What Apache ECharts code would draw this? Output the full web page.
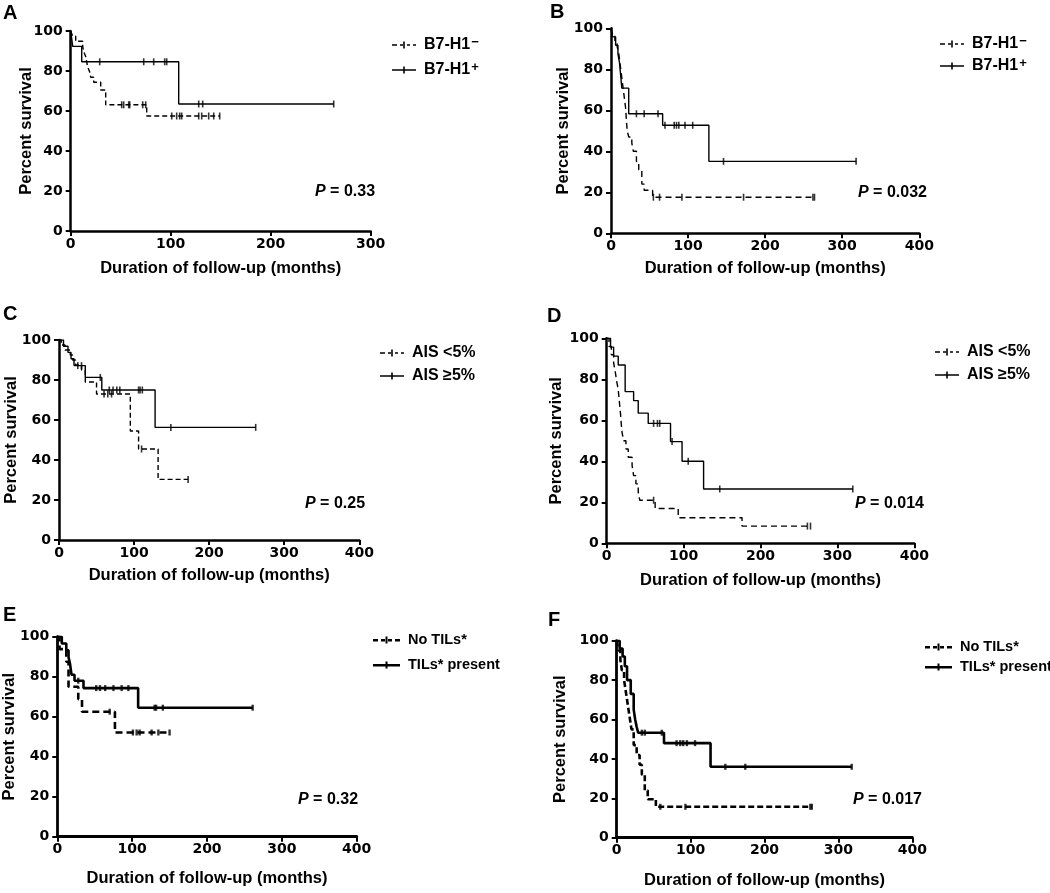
<!DOCTYPE html>
<html><head><meta charset="utf-8">
<script src="https://cdn.jsdelivr.net/npm/echarts@6/dist/echarts.min.js"></script>
<style>html,body{margin:0;padding:0;background:#fff}#c{width:1050px;height:893px}</style>
</head><body><div id="c"></div><script>
// ---------- DATA ----------
const panelLetters = ['A','B','C','D','E','F'];
const pValues = ['0.33','0.032','0.25','0.014','0.32','0.017'];
const xTitle = 'Duration of follow-up (months)';
const yTitle = 'Percent survival';
const xMaxes = [300, 400, 400, 400, 400, 400];
const yTicks = [0, 20, 40, 60, 80, 100];
const groupNames = [['B7-H1\u2212','B7-H1+'],['B7-H1\u2212','B7-H1+'],['AIS <5%','AIS \u22655%'],['AIS <5%','AIS \u22655%'],['No TILs*','TILs* present'],['No TILs*','TILs* present']];

// Panel A
const aNegT = [0, 2, 5, 12, 13, 15, 16, 17, 19, 20, 23, 30, 35, 76];
const aNegS = [100, 97.4, 94.9, 92.3, 89.7, 87.2, 84.6, 82.1, 79.5, 76.9, 74.4, 70.5, 63.1, 57.5];
const aNegC = [51, 53, 58, 59, 72, 75, 101, 106, 109, 111, 128, 131, 138, 143, 149];
const aPosT = [0, 2, 11, 108];
const aPosS = [100, 92.3, 84.6, 63.5];
const aPosC = [29, 73, 83, 94, 96, 128, 132, 263];
// Panel B
const bNegT = [0, 2, 5, 8, 10, 11, 12, 13, 14, 15, 16, 17, 18, 19, 20, 21, 23, 27, 29, 33, 36, 40, 43, 54];
const bNegS = [100, 97, 94, 91, 88, 85, 82, 79, 76, 73, 70, 67, 64, 61, 55, 50, 47, 44, 40, 35, 31, 24, 21, 17.6];
const bNegC = [55, 63, 92, 172, 262, 264];
const bPosT = [0, 2, 6, 9, 11, 12, 13, 14, 23, 67, 127];
const bPosS = [100, 95.8, 91.7, 87.5, 83.3, 79.2, 75, 70.8, 58.3, 52.7, 35.1];
const bPosC = [33, 43, 61, 70, 82, 85, 88, 96, 106, 146, 318];
// Panel C
const cNegT = [0, 3, 8, 15, 18, 22, 30, 35, 50, 95, 106, 132];
const cNegS = [100, 97.5, 95, 92.5, 90, 87.5, 85, 79, 73, 54.5, 45.5, 30.3];
const cNegC = [60, 65, 70, 110, 172];
const cPosT = [0, 6, 12, 16, 20, 35, 57, 128];
const cPosS = [100, 96.9, 93.8, 90.6, 87.2, 81.3, 75, 56.3];
const cPosC = [25, 30, 55, 67, 72, 77, 81, 106, 108, 111, 149, 262];
// Panel D
const dNegT = [0, 3, 6, 9, 11, 13, 15, 17, 18, 19, 20, 22, 25, 28, 33, 35, 38, 41, 43, 63, 93, 176];
const dNegS = [100, 96, 92, 88, 84, 79, 75, 67, 63, 58, 54, 50, 46, 42, 38, 33, 29, 25, 21, 17, 12.5, 8.4];
const dNegC = [61, 261, 265];
const dPosT = [0, 5, 9, 15, 24, 35, 41, 54, 83, 98, 126];
const dPosS = [100, 95.7, 91.3, 87, 74, 69.6, 63.5, 58.5, 49.6, 40, 26.5];
const dPosC = [61, 66, 69, 85, 106, 147, 320];
// Panel E
const eNegT = [0, 3, 12, 15, 28, 33, 77];
const eNegS = [100, 93.8, 87.5, 75, 68.8, 62.5, 52.1];
const eNegC = [70, 101, 106, 110, 126, 135, 150];
const ePosT = [0, 6, 12, 15, 17, 19, 23, 35, 108];
const ePosS = [100, 96.6, 93.2, 89.8, 86.4, 81, 78, 74.3, 64.5];
const ePosC = [28, 52, 57, 64, 75, 86, 95, 130, 132, 141, 261];
// Panel F
const fNegT = [0, 2, 5, 7, 10, 12, 14, 16, 18, 20, 23, 27, 31, 34, 38, 42, 53];
const fNegS = [100, 95, 90, 85, 80, 75, 70, 65, 60, 55, 47, 42, 37, 32, 24, 19.5, 15.7];
const fNegC = [59, 93, 262, 264];
const fPosT = [0, 4, 8, 11, 14, 19, 23, 25, 27, 29, 64, 127];
const fPosS = [100, 96, 92, 87, 80, 73, 65, 60, 56.3, 53.3, 48, 36];
const fPosC = [34, 38, 61, 81, 86, 90, 95, 106, 147, 174, 318];

const curves = [
  [[aNegT, aNegS, aNegC], [aPosT, aPosS, aPosC]],
  [[bNegT, bNegS, bNegC], [bPosT, bPosS, bPosC]],
  [[cNegT, cNegS, cNegC], [cPosT, cPosS, cPosC]],
  [[dNegT, dNegS, dNegC], [dPosT, dPosS, dPosC]],
  [[eNegT, eNegS, eNegC], [ePosT, ePosS, ePosC]],
  [[fNegT, fNegS, fNegC], [fPosT, fPosS, fPosC]]
];

// ---------- LAYOUT ----------
const TICKFONT = 'DejaVu Sans';
const FONT = 'Liberation Sans';
const layout = [
  {grid:{left:70.7, top:31, width:300, height:200},     yGap:36, xGap:29, lw:1.4, cw:1.6, ch:7, aw:2.5, dash:[5,3],
   legend:{left:392, top:36, gap:5, fs:16, lh:18}, pv:[315,192], letter:[3,13]},
  {grid:{left:611, top:28.3, width:308.3, height:205},  yGap:39, xGap:27, lw:1.4, cw:1.6, ch:7, aw:2.5, dash:[6,4],
   legend:{left:940, top:35, gap:2, fs:16, lh:18}, pv:[858,193], letter:[550,12]},
  {grid:{left:59, top:340, width:300.3, height:200},    yGap:39, xGap:27, lw:1.4, cw:1.6, ch:7, aw:2.5, dash:[5,3],
   legend:{left:380, top:344, gap:5, fs:16, lh:18}, pv:[305,504], letter:[3,314]},
  {grid:{left:606.7, top:338.3, width:307.6, height:205}, yGap:42, xGap:29, lw:1.4, cw:1.6, ch:7, aw:2.5, dash:[6,4],
   legend:{left:935, top:343, gap:5, fs:16, lh:18}, pv:[855,504], letter:[547,316]},
  {grid:{left:57.3, top:636.7, width:299.4, height:200}, yGap:39, xGap:33, lw:2.6, cw:2.4, ch:6, aw:2.8, dash:[7,4],
   legend:{left:373, top:632, gap:9, fs:14.5, lh:16}, pv:[298,800], letter:[3,615]},
  {grid:{left:616.7, top:640.7, width:295.6, height:197}, yGap:48, xGap:34, lw:2.6, cw:2.4, ch:6, aw:2.8, dash:[6,3],
   legend:{left:925, top:639, gap:4, fs:14.5, lh:16}, pv:[853,800], letter:[548,620]}
];

const iconSolidThin = 'path://M0,2.7h24v1.6h-24zM11.2,0h1.6v7h-1.6z';
const iconDashThin = 'path://M0,2.7h5v1.6h-5zM8,2.7h3v1.6h-3zM11.2,0h1.6v7h-1.6zM15,2.7h3v1.6h-3zM21,2.7h3v1.6h-3z';
const iconSolidThick = 'path://M0,2.4h27v2.6h-27zM12.5,0h2v7h-2z';
const iconDashThick = 'path://M0,2.4h5v2.6h-5zM8,2.4h4v2.6h-4zM12.5,0h2v7h-2zM15,2.4h4v2.6h-4zM22,2.4h5v2.6h-5z';

function stepData(T, S, C) {
  const pts = T.map((t, i) => [t, S[i]]);
  const lastT = T[T.length - 1];
  const end = Math.max(lastT, ...C);
  if (end > lastT) pts.push([end, S[S.length - 1]]);
  return pts;
}
function survAt(T, S, t) {
  let s = S[0];
  for (let i = 0; i < T.length; i++) if (T[i] <= t) s = S[i];
  return s;
}

const grids = [], xAxes = [], yAxes = [], series = [], legends = [], graphics = [];
layout.forEach((L, i) => {
  grids.push(Object.assign({outerBoundsMode:'none', containLabel:false}, L.grid));
  const axisCommon = {
    gridIndex: i, type: 'value',
    nameLocation: 'middle', nameMoveOverlap: false,
    axisLine: {show:true, onZero:false, lineStyle:{color:'#000', width:L.aw}},
    axisTick: {show:true, inside:false, length:5, lineStyle:{color:'#000', width:2}},
    axisLabel: {color:'#000', fontFamily:TICKFONT, fontWeight:'bold', fontSize:14},
    splitLine: {show:false}
  };
  xAxes.push(Object.assign({}, axisCommon, {
    min:0, max:xMaxes[i], interval:100, name:xTitle, nameGap:L.xGap,
    nameTextStyle: {color:'#000', fontFamily:FONT, fontWeight:'bold', fontSize:16.5},
    axisLabel: Object.assign({}, axisCommon.axisLabel, {margin:6})
  }));
  yAxes.push(Object.assign({}, axisCommon, {
    min:yTicks[0], max:yTicks[yTicks.length-1], interval:yTicks[1]-yTicks[0],
    name:yTitle, nameGap:L.yGap, nameRotate:90,
    nameTextStyle: {color:'#000', fontFamily:FONT, fontWeight:'bold', fontSize:16.5},
    axisLabel: Object.assign({}, axisCommon.axisLabel, {margin:8})
  }));
  curves[i].forEach((cv, k) => {
    const [T, S, C] = cv;
    const name = groupNames[i][k];
    series.push({
      type:'line', name: name, xAxisIndex:i, yAxisIndex:i, step:'end',
      showSymbol:false, symbol:'none', data: stepData(T, S, C),
      lineStyle:{color:'#000', width:L.lw, type: k === 0 ? L.dash : 'solid', cap:'butt'},
      itemStyle:{color:'#000'}, animation:false, silent:true, z:3
    });
    series.push({
      type:'scatter', name: name + ' (censored)', xAxisIndex:i, yAxisIndex:i,
      symbol:'rect', symbolSize:[L.cw, L.ch],
      data: C.map(t => [t, survAt(T, S, t)]),
      itemStyle:{color:'#000'}, animation:false, silent:true, z:4
    });
  });
  const thick = i >= 4;
  const fs = L.legend.fs, lh = L.legend.lh;
  legends.push({
    show:true, orient:'vertical', left:L.legend.left, top:L.legend.top, padding:0,
    itemGap:L.legend.gap, itemWidth: thick ? 27 : 24, itemHeight:7, selectedMode:false,
    data:[
      {name:groupNames[i][0], icon: thick ? iconDashThick : iconDashThin},
      {name:groupNames[i][1], icon: thick ? iconSolidThick : iconSolidThin}
    ],
    formatter: function(n) {
      if (n === 'B7-H1\u2212') return '{m|B7-H1}{s|\u2212}';
      if (n === 'B7-H1+') return '{m|B7-H1}{s|+}';
      return '{m|' + n + '}';
    },
    textStyle:{color:'#000', fontFamily:FONT, fontWeight:'bold', fontSize:fs, lineHeight:lh, padding:[0,0,0,3],
      rich:{
        m:{color:'#000', fontFamily:FONT, fontWeight:'bold', fontSize:fs, lineHeight:lh},
        s:{color:'#000', fontFamily:FONT, fontWeight:'bold', fontSize:13, lineHeight:lh, verticalAlign:'top', padding:[0,0,7,1]}
      }}
  });
  graphics.push({
    type:'text', x:L.pv[0], y:L.pv[1], silent:true,
    style:{text:'{i|P} = ' + pValues[i], fill:'#000', font:'bold 16px "' + FONT + '"', verticalAlign:'middle', align:'left',
      rich:{i:{fontStyle:'italic', fontWeight:'bold', fontSize:16, fontFamily:FONT, fill:'#000'}}}
  });
  graphics.push({
    type:'text', x:L.letter[0], y:L.letter[1], silent:true,
    style:{text:panelLetters[i], fill:'#000', font:'bold 20px "' + FONT + '"', verticalAlign:'middle', align:'left'}
  });
});

const chart = echarts.init(document.getElementById('c'), null, {renderer:'canvas'});
chart.setOption({
  backgroundColor:'#fff', animation:false,
  grid:grids, xAxis:xAxes, yAxis:yAxes, series:series, legend:legends, graphic:graphics,
  tooltip:{show:false}
});
</script></body></html>
